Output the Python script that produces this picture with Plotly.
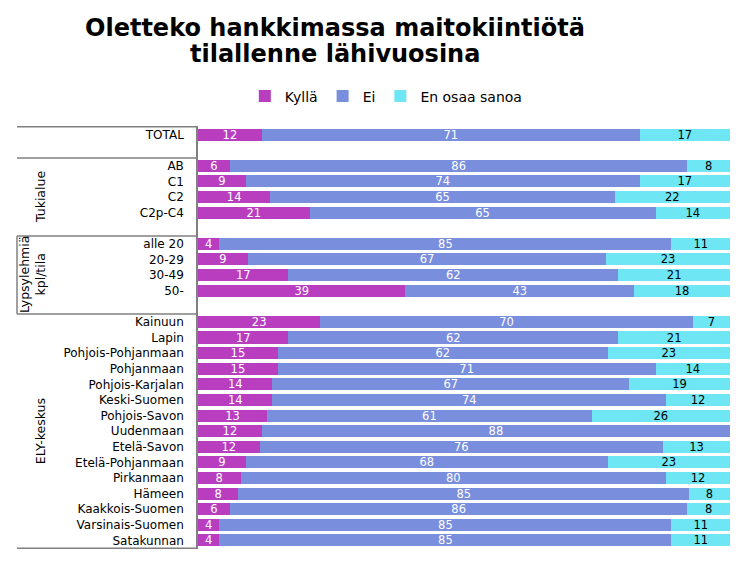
import plotly.graph_objects as go

categories = ["TOTAL", "AB", "C1", "C2", "C2p-C4", "alle 20", "20-29", "30-49", "50-",
              "Kainuun", "Lapin", "Pohjois-Pohjanmaan", "Pohjanmaan", "Pohjois-Karjalan",
              "Keski-Suomen", "Pohjois-Savon", "Uudenmaan", "Etelä-Savon", "Etelä-Pohjanmaan",
              "Pirkanmaan", "Hämeen", "Kaakkois-Suomen", "Varsinais-Suomen", "Satakunnan"]
kylla = [12, 6, 9, 13.6, 21, 4, 9.4, 17, 39, 23, 17, 15, 15, 14, 14, 13, 12, 11.6, 9, 8, 7.6, 6, 4, 4]
ei = [71, 86, 74, 64.7, 65, 85, 67.3, 62, 43, 70, 62, 62, 71, 67, 74, 61, 88, 75.8, 68, 80, 84.7, 86, 85, 85]
en_osaa = [17, 8, 17, 21.7, 14, 11, 23.3, 21, 18, 7, 21, 23, 14, 19, 12, 26, None, 12.6, 23, 12, 7.7, 8, 11, 11]
series_names = ["Kyllä", "Ei", "En osaa sanoa"]
colors = ["#B93EBF", "#7A8EDE", "#6EE6F4"]
text_colors = ["white", "white", "black"]

# axis order including blank spacer rows between groups
category_order = ["TOTAL", " ", "AB", "C1", "C2", "C2p-C4", "  ", "alle 20", "20-29", "30-49", "50-", "   ",
                  "Kainuun", "Lapin", "Pohjois-Pohjanmaan", "Pohjanmaan", "Pohjois-Karjalan",
                  "Keski-Suomen", "Pohjois-Savon", "Uudenmaan", "Etelä-Savon", "Etelä-Pohjanmaan",
                  "Pirkanmaan", "Hämeen", "Kaakkois-Suomen", "Varsinais-Suomen", "Satakunnan"]
group_labels = ["Tukialue", "Lypsylehmiä<br>kpl/tila", "ELY-keskus"]

FONT = "DejaVu Sans"

fig = go.Figure()
for name, vals, col, tcol in zip(series_names, [kylla, ei, en_osaa], colors, text_colors):
    fig.add_trace(go.Bar(
        y=categories, x=vals, name=name, orientation="h",
        marker=dict(color=col, line=dict(width=0)),
        texttemplate="%{x:.0f}",
        textposition="inside", insidetextanchor="middle", textangle=0,
        textfont=dict(color=tcol, size=11.5, family=FONT),
        constraintext="none",
    ))

fig.update_layout(
    barmode="stack", bargap=0.23,
    width=747, height=563,
    margin=dict(l=198, r=17, t=126, b=14),
    paper_bgcolor="white", plot_bgcolor="white",
    font=dict(family=FONT, size=12, color="black"),
    showlegend=True,
    legend=dict(orientation="h", traceorder="normal", x=0.088, xanchor="left", y=1.0697, yanchor="middle",
                font=dict(size=14, family=FONT),
                bgcolor="rgba(0,0,0,0)", borderwidth=0),
    xaxis=dict(range=[0, 100], visible=False, fixedrange=True),
    yaxis=dict(type="category", categoryorder="array", categoryarray=category_order,
               autorange="reversed", showgrid=False, zeroline=False, ticks="",
               showline=True, linecolor="#808080", linewidth=1.5,
               ticklabelstandoff=10, tickfont=dict(size=12, family=FONT)),
)

# group separator lines of the category table
xl = (17 - 198) / 532
for yv in [-0.5, 1.5, 6.5, 11.5, 26.5]:
    fig.add_shape(type="line", xref="paper", yref="y", x0=xl, x1=0, y0=yv, y1=yv,
                  line=dict(color="#808080", width=1.5))
fig.add_shape(type="line", xref="paper", yref="y", x0=xl, x1=xl, y0=6.5, y1=11.5,
              line=dict(color="#808080", width=1.5))

# group labels (rotated)
for lab, yc, xp in zip(group_labels, [4, 9, 19], [40, 32, 40]):
    fig.add_annotation(text=lab, xref="paper", yref="y", x=(xp - 198) / 532, y=yc,
                       textangle=-90, showarrow=False, xanchor="center", yanchor="middle",
                       font=dict(size=12.5, family=FONT))

# title
title_lines = ["Oletteko hankkimassa maitokiintiötä", "tilallenne lähivuosina"]
for line, ypix in zip(title_lines, [28, 54]):
    fig.add_annotation(text="<b>" + line + "</b>", xref="paper", yref="paper",
                       x=(335 - 198) / 532, y=(549 - ypix) / 423, showarrow=False,
                       xanchor="center", yanchor="middle",
                       font=dict(size=24, family="DejaVu Sans", color="black"))

fig.write_html("out.html", config={"displayModeBar": False},
               post_script="document.body.style.margin='0';")
